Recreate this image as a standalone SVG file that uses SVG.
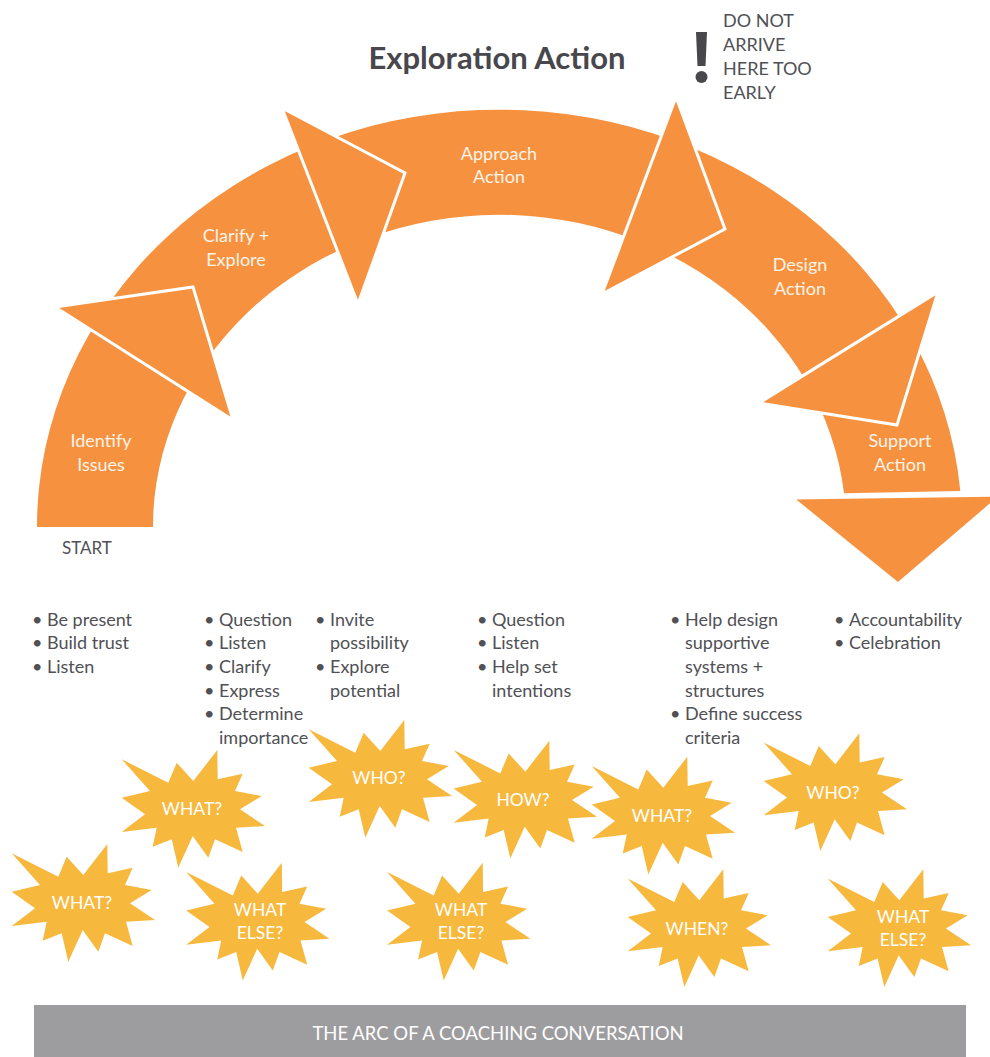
<svg xmlns="http://www.w3.org/2000/svg" width="990" height="1057" viewBox="0 0 990 1057">
<style>
.seg{fill:#F6923F}
.arrow{fill:#F6923F;stroke:#FFFFFF;stroke-width:3;stroke-linejoin:miter}
.lbl{font-family:Lato,"Open Sans",sans-serif;font-size:18px;fill:#FDF2E8;text-anchor:middle}
.burst{fill:#F7B83E}
.btxt{font-family:Lato,"Open Sans",sans-serif;font-size:17.5px;fill:#FFFFFF;text-anchor:middle}
.body{font-family:Lato,"Open Sans",sans-serif;font-size:18px;fill:#505055}
.title{font-family:Lato,"Open Sans",sans-serif;font-size:31px;font-weight:bold;fill:#47474C;text-anchor:middle}
.warn{font-family:Lato,"Open Sans",sans-serif;font-size:18px;fill:#505055}
.bar{fill:#9D9D9F}
.bartxt{font-family:Lato,"Open Sans",sans-serif;font-size:18.5px;fill:#FFFFFF;text-anchor:middle}
</style>
<defs>
<polygon id="star" points="25.3,-59 25.7,-29.7 50.7,-35.3 43,-18 69.7,-13 48,0.3 73,17 44,18.7 50.7,43 23,30.3 16.3,48.7 0.7,27 -13.7,58.7 -20.3,30.3 -39.3,37.7 -35.3,18.7 -70.3,23 -47,5.3 -70.3,-11.3 -42,-18 -70.3,-49.7 -23.7,-26.3 -15.3,-46.3 1.3,-28"/>
</defs>
<rect width="990" height="1057" fill="#FFFFFF"/>

<text class="title" x="497" y="69">Exploration Action</text>

<g id="warning">
<path d="M696,32 L707,32 L705.5,66 L697.5,66 Z" fill="#47474C"/>
<circle cx="701.5" cy="77" r="6" fill="#47474C"/>
<text class="warn" x="723" y="27">DO NOT</text>
<text class="warn" x="723" y="51">ARRIVE</text>
<text class="warn" x="723" y="75">HERE TOO</text>
<text class="warn" x="723" y="99">EARLY</text>
</g>

<g id="arc">
<path class="seg" d="M37,527 A462.5,417 0 0 1 960.3,491 L844,493.3 A346.5,312 0 0 0 153,527 Z"/>
</g>
<g id="connectors">
<polygon class="arrow" points="55,307 193,287 233,420"/>
<polygon class="arrow" points="282,108 405,173 358,304"/>
<polygon class="arrow" points="676,97 725,229 602,294"/>
<polygon class="arrow" points="938,292 897,425 759,403"/>
<polygon class="arrow" points="792,498 1002,495 898,584"/>
</g>

<g id="identify"><text class="lbl" x="101" y="447">Identify</text><text class="lbl" x="101" y="471">Issues</text></g>
<g id="clarify"><text class="lbl" x="236" y="242">Clarify +</text><text class="lbl" x="236" y="266">Explore</text></g>
<g id="approach"><text class="lbl" x="499" y="160">Approach</text><text class="lbl" x="499" y="183">Action</text></g>
<g id="design"><text class="lbl" x="800" y="271">Design</text><text class="lbl" x="800" y="295">Action</text></g>
<g id="support"><text class="lbl" x="900" y="447">Support</text><text class="lbl" x="900" y="471">Action</text></g>

<text class="body" x="62" y="554" style="font-size:17px">START</text>

<g id="col1">
<text class="body" x="32" y="626">•</text><text class="body" x="47" y="626">Be present</text>
<text class="body" x="32" y="649">•</text><text class="body" x="47" y="649">Build trust</text>
<text class="body" x="32" y="673">•</text><text class="body" x="47" y="673">Listen</text>
</g>
<g id="col2">
<text class="body" x="204" y="626">•</text><text class="body" x="219" y="626">Question</text>
<text class="body" x="204" y="649">•</text><text class="body" x="219" y="649">Listen</text>
<text class="body" x="204" y="673">•</text><text class="body" x="219" y="673">Clarify</text>
<text class="body" x="204" y="697">•</text><text class="body" x="219" y="697">Express</text>
<text class="body" x="204" y="720">•</text><text class="body" x="219" y="720">Determine</text>
<text class="body" x="219" y="744">importance</text>
</g>
<g id="col3">
<text class="body" x="315" y="626">•</text><text class="body" x="330" y="626">Invite</text>
<text class="body" x="330" y="649">possibility</text>
<text class="body" x="315" y="673">•</text><text class="body" x="330" y="673">Explore</text>
<text class="body" x="330" y="697">potential</text>
</g>
<g id="col4">
<text class="body" x="477" y="626">•</text><text class="body" x="492" y="626">Question</text>
<text class="body" x="477" y="649">•</text><text class="body" x="492" y="649">Listen</text>
<text class="body" x="477" y="673">•</text><text class="body" x="492" y="673">Help set</text>
<text class="body" x="492" y="697">intentions</text>
</g>
<g id="col5">
<text class="body" x="670" y="626">•</text><text class="body" x="685" y="626">Help design</text>
<text class="body" x="685" y="649">supportive</text>
<text class="body" x="685" y="673">systems +</text>
<text class="body" x="685" y="697">structures</text>
<text class="body" x="670" y="720">•</text><text class="body" x="685" y="720">Define success</text>
<text class="body" x="685" y="744">criteria</text>
</g>
<g id="col6">
<text class="body" x="834" y="626">•</text><text class="body" x="849" y="626">Accountability</text>
<text class="body" x="834" y="649">•</text><text class="body" x="849" y="649">Celebration</text>
</g>

<g id="b-what1"><use href="#star" class="burst" transform="translate(192,809)"/><text class="btxt" x="192" y="815">WHAT?</text></g>
<g id="b-what2"><use href="#star" class="burst" transform="translate(82,903)"/><text class="btxt" x="82" y="909">WHAT?</text></g>
<g id="b-whatelse1"><use href="#star" class="burst" transform="translate(256.5,921.7)"/><text class="btxt" x="260" y="916">WHAT</text><text class="btxt" x="260" y="939">ELSE?</text></g>
<g id="b-who1"><use href="#star" class="burst" transform="translate(379,779)"/><text class="btxt" x="379" y="784">WHO?</text></g>
<g id="b-how"><use href="#star" class="burst" transform="translate(524,799.7)"/><text class="btxt" x="523" y="806">HOW?</text></g>
<g id="b-whatelse2"><use href="#star" class="burst" transform="translate(457.4,921.7)"/><text class="btxt" x="461" y="916">WHAT</text><text class="btxt" x="461" y="939">ELSE?</text></g>
<g id="b-what3"><use href="#star" class="burst" transform="translate(662,815.7)"/><text class="btxt" x="662" y="822">WHAT?</text></g>
<g id="b-who2"><use href="#star" class="burst" transform="translate(834,792.3)"/><text class="btxt" x="833" y="799">WHO?</text></g>
<g id="b-when"><use href="#star" class="burst" transform="translate(698,928.3)"/><text class="btxt" x="697" y="935">WHEN?</text></g>
<g id="b-whatelse3"><use href="#star" class="burst" transform="translate(898,928.3)"/><text class="btxt" x="903" y="923">WHAT</text><text class="btxt" x="903" y="946">ELSE?</text></g>

<g id="footer">
<rect class="bar" x="34" y="1005" width="932" height="52"/>
<text class="bartxt" x="498" y="1040">THE ARC OF A COACHING CONVERSATION</text>
</g>
</svg>
